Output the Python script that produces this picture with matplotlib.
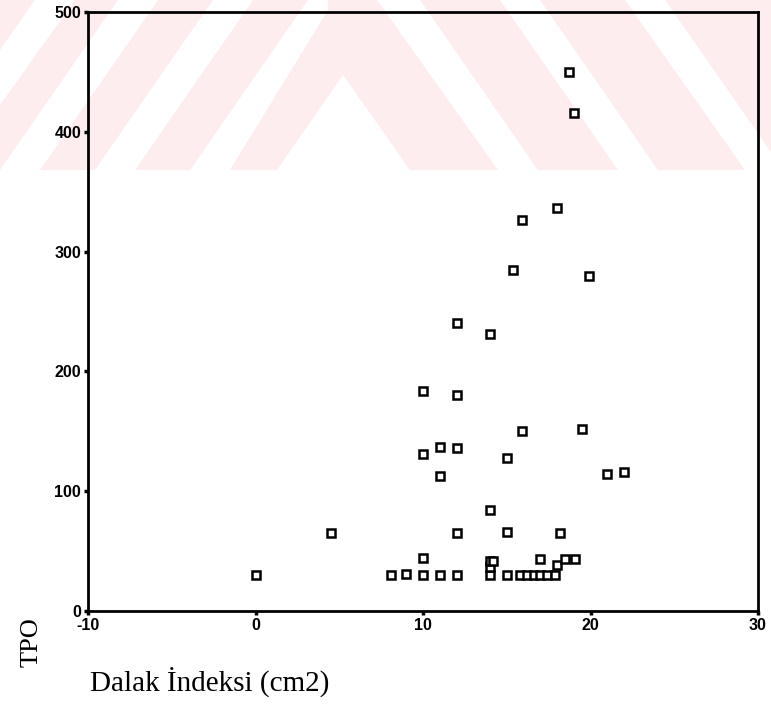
import matplotlib.pyplot as plt
from matplotlib.patches import Polygon

# Dalak indeksi (cm2) vs TPO
dalak = [0, 4.5, 8.1, 9.0, 10, 10, 11, 12, 12,
         14, 14, 14, 14.2, 14, 15, 15,
         15.8, 16.2, 16.6, 17.0, 17.4, 17.9, 18, 17, 18.5, 19.1, 18.2,
         10, 10, 11, 12, 11, 12, 12, 14, 15, 15.9, 19.5, 21, 22,
         15.4, 19.9, 15.9, 18, 18.7, 19]
tpo = [30, 65, 30, 31, 30, 44, 30, 30, 65,
       30, 37, 42, 42, 84, 30, 66,
       30, 30, 30, 30, 30, 30, 38, 43, 43, 43, 65,
       131, 184, 137, 136, 113, 180, 240, 231, 128, 150, 152, 114, 116,
       285, 280, 326, 336, 450, 416]

xticks = [-10, 0, 10, 20, 30]
yticks = [0, 100, 200, 300, 400, 500]

W, H = 771, 711
fig = plt.figure(figsize=(W / 100, H / 100), dpi=100)

# faint scan watermark band at the top (pixel coords -> figure coords)
def px(pts):
    return [(x / W, 1 - y / H) for x, y in pts]

pink = "#fdedef"
fig.patches.append(Polygon(px([(0, 0), (W, 0), (W, 170), (0, 170)]),
                           closed=True, facecolor=pink, edgecolor="none",
                           transform=fig.transFigure, zorder=-2))
white_shapes = [
    [(0, 50), (35, 0), (75, 0), (0, 105)],
    [(0, 170), (118, 0), (158, 0), (40, 170)],
    [(95, 170), (213, 0), (253, 0), (135, 170)],
    [(190, 170), (308, 0), (328, 0), (328, 10), (230, 170)],
    [(277, 170), (343, 75), (410, 170)],
    [(377, 0), (420, 0), (538, 170), (498, 170)],
    [(500, 0), (540, 0), (658, 170), (618, 170)],
    [(625, 0), (665, 0), (771, 152), (771, 170), (745, 170)],
]
for s in white_shapes:
    fig.patches.append(Polygon(px(s), closed=True, facecolor="white",
                               edgecolor="none", transform=fig.transFigure, zorder=-1))

ax = fig.add_axes([88 / W, 1 - 611 / H, (758 - 88) / W, (611 - 12) / H])
ax.set_zorder(1)
ax.patch.set_alpha(0)

ax.plot(dalak, tpo, linestyle="none", marker="s", markersize=5.6,
        markerfacecolor="white", markeredgecolor="black", markeredgewidth=1.8)

ax.set_xlim(-10, 30)
ax.set_ylim(0, 500)
ax.set_xticks(xticks)
ax.set_yticks(yticks)
ax.set_xticklabels([str(v) for v in xticks], fontfamily="Liberation Sans",
                   fontweight="bold", fontsize=11.5)
ax.set_yticklabels([str(v) for v in yticks], fontfamily="Liberation Sans",
                   fontweight="bold", fontsize=11.5)
ax.tick_params(direction="out", length=3, width=2.5, pad=2)

for sp in ax.spines.values():
    sp.set_linewidth(2)

fig.text(32 / W, 1 - 642 / H, "TPO", rotation=90, ha="center", va="center",
         fontfamily="Liberation Serif", fontsize=19)
fig.text(90 / W, 1 - 682 / H, "Dalak İndeksi (cm2)", ha="left", va="center",
         fontfamily="Liberation Serif", fontsize=21)

fig.savefig("out.png", dpi=100)
